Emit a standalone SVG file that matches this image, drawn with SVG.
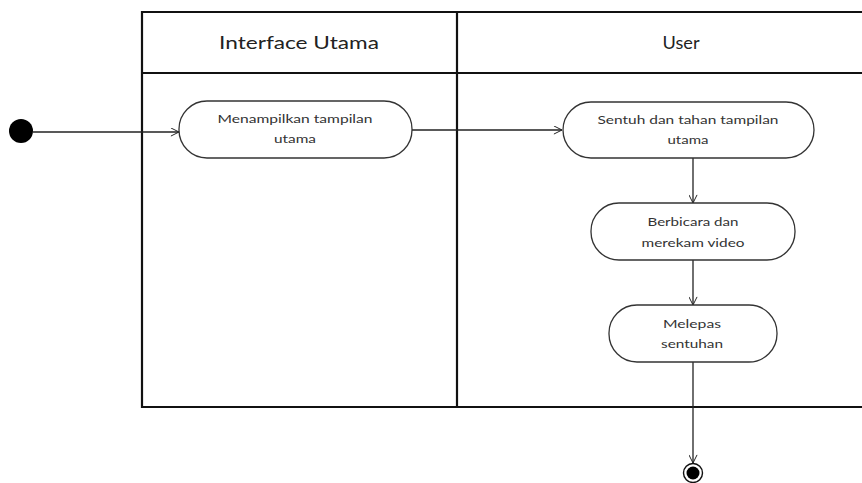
<svg xmlns="http://www.w3.org/2000/svg" width="862" height="483" viewBox="0 0 862 483">
  <style>
    .lane { fill: none; stroke: #111; stroke-width: 2.2; }
    .act { fill: #fff; stroke: #333; stroke-width: 1.3; }
    .edge { fill: none; stroke: #222; stroke-width: 1.3; }
    .head { font-family: "Lato", "Open Sans", sans-serif; font-size: 17px; fill: #222; text-anchor: middle; }
    .lbl { font-family: "Lato", "Open Sans", sans-serif; font-size: 12px; fill: #333; text-anchor: middle; }
  </style>
  <defs>
    <marker id="open" viewBox="0 0 10 10" refX="10" refY="5" markerWidth="9" markerHeight="9" markerUnits="userSpaceOnUse" orient="auto">
      <path d="M1,0.5 L10,5 L1,9.5" fill="none" stroke="#222" stroke-width="1.1"/>
    </marker>
  </defs>
  <rect width="862" height="483" fill="#fff"/>

  <!-- swimlane frame -->
  <g id="swimlanes">
    <path class="lane" d="M905,12 H142 V407 H905"/>
    <line class="lane" x1="142" y1="73" x2="905" y2="73"/>
    <line class="lane" x1="457" y1="12" x2="457" y2="407"/>
    <text class="head" x="299" y="49" textLength="160" lengthAdjust="spacingAndGlyphs">Interface Utama</text>
    <text class="head" x="681" y="49" textLength="37" lengthAdjust="spacingAndGlyphs">User</text>
  </g>

  <!-- connectors -->
  <g id="connectors">
    <line class="edge" x1="33" y1="132" x2="179" y2="132" marker-end="url(#open)"/>
    <line class="edge" x1="412" y1="130" x2="562" y2="130" marker-end="url(#open)"/>
    <line class="edge" x1="693" y1="158" x2="693" y2="203" marker-end="url(#open)"/>
    <line class="edge" x1="693" y1="260" x2="693" y2="305" marker-end="url(#open)"/>
    <line class="edge" x1="693" y1="362" x2="693" y2="463" marker-end="url(#open)"/>
  </g>

  <g id="start">
    <circle cx="21" cy="131" r="12" fill="#000"/>
  </g>

  <g id="act-menampilkan">
    <rect class="act" x="179" y="101" width="233" height="57" rx="28" ry="28"/>
    <text class="lbl" x="295" y="123" textLength="155" lengthAdjust="spacingAndGlyphs">Menampilkan tampilan</text>
    <text class="lbl" x="295" y="143" textLength="42" lengthAdjust="spacingAndGlyphs">utama</text>
  </g>

  <g id="act-sentuh">
    <rect class="act" x="563" y="102" width="251" height="56" rx="28" ry="28"/>
    <text class="lbl" x="688" y="124" textLength="181" lengthAdjust="spacingAndGlyphs">Sentuh dan tahan tampilan</text>
    <text class="lbl" x="688" y="144" textLength="41" lengthAdjust="spacingAndGlyphs">utama</text>
  </g>

  <g id="act-berbicara">
    <rect class="act" x="591" y="203" width="204" height="57" rx="28" ry="28"/>
    <text class="lbl" x="693" y="226" textLength="91" lengthAdjust="spacingAndGlyphs">Berbicara dan</text>
    <text class="lbl" x="693" y="247" textLength="103" lengthAdjust="spacingAndGlyphs">merekam video</text>
  </g>

  <g id="act-melepas">
    <rect class="act" x="609" y="305" width="168" height="57" rx="28" ry="28"/>
    <text class="lbl" x="692" y="328" textLength="58" lengthAdjust="spacingAndGlyphs">Melepas</text>
    <text class="lbl" x="692" y="348" textLength="62" lengthAdjust="spacingAndGlyphs">sentuhan</text>
  </g>

  <g id="end">
    <circle cx="693" cy="473" r="9.5" fill="#fff" stroke="#111" stroke-width="1.4"/>
    <circle cx="693" cy="473" r="6.5" fill="#000"/>
  </g>
</svg>
